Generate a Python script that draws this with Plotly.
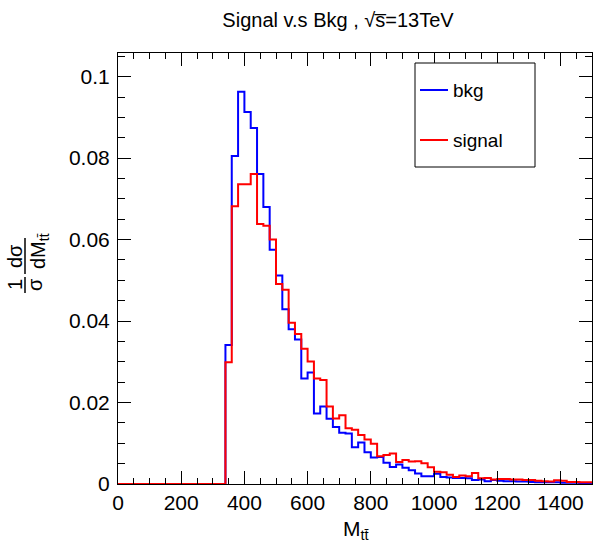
import plotly.graph_objects as go

# ---------------- data ----------------
bin_width = 20
n_bins = 75
edges = [i * bin_width for i in range(n_bins + 1)]

zeros_below = [0.0] * 17  # 0 - 340 GeV

bkg_main = [0.0341, 0.0805, 0.0963, 0.0913, 0.0874, 0.0761, 0.0680, 0.0575, 0.0512, 0.0429,
            0.0380, 0.0355, 0.0259, 0.0274, 0.0173, 0.0190, 0.0160, 0.0140, 0.0126, 0.0124,
            0.0090, 0.0102, 0.0078, 0.0065, 0.0066, 0.0052, 0.0042, 0.0048, 0.0040, 0.0034,
            0.0026, 0.0019, 0.0019, 0.0025, 0.0017, 0.0016, 0.0015, 0.0015, 0.0014, 0.0010,
            0.0011, 0.0007, 0.0010]
bkg_tail = [0.0008, 0.0007, 0.0007, 0.0006, 0.0006, 0.0005, 0.0004, 0.0004, 0.0004, 0.0004,
            0.0003, 0.0003, 0.0003, 0.0002, 0.0002]

sig_main = [0.0299, 0.0682, 0.0736, 0.0736, 0.0761, 0.0638, 0.0634, 0.0600, 0.0491, 0.0477,
            0.0396, 0.0368, 0.0332, 0.0301, 0.0259, 0.0255, 0.0190, 0.0161, 0.0169, 0.0137,
            0.0133, 0.0120, 0.0109, 0.0099, 0.0068, 0.0071, 0.0075, 0.0054, 0.0059, 0.0055,
            0.0056, 0.0051, 0.0041, 0.0030, 0.0029, 0.0023, 0.0017, 0.0021, 0.0019, 0.0027,
            0.0014, 0.0015, 0.0011]
sig_tail = [0.0012, 0.0012, 0.0011, 0.0011, 0.0010, 0.0010, 0.0008, 0.0007, 0.0006, 0.0009,
            0.0008, 0.0005, 0.0005, 0.0004, 0.0004]

bkg = zeros_below + bkg_main + bkg_tail
signal = zeros_below + sig_main + sig_tail

x_ticks = [0, 200, 400, 600, 800, 1000, 1200, 1400]
y_ticks = [0, 0.02, 0.04, 0.06, 0.08, 0.1]
y_tick_text = ["0", "0.02", "0.04", "0.06", "0.08", "0.1"]

# ---------------- layout geometry ----------------
W, H = 593, 546
L, R, T, B = 118, 1, 53, 62
PW = W - L - R
PH = H - T - B


def px(xp):
    return (xp - L) / PW


def py(yp):
    return (H - B - yp) / PH


FONT = "Liberation Sans, Arial, Helvetica, sans-serif"

fig = go.Figure()
fig.add_trace(go.Scatter(x=edges, y=bkg + [bkg[-1]], mode="lines", line_shape="hv",
                         line=dict(color="#0000ff", width=2), name="bkg", showlegend=False))
fig.add_trace(go.Scatter(x=edges, y=signal + [signal[-1]], mode="lines", line_shape="hv",
                         line=dict(color="#ff0000", width=2), name="signal", showlegend=False))

fig.update_layout(
    width=W, height=H,
    margin=dict(l=L, r=R, t=T, b=B, pad=0, autoexpand=False),
    paper_bgcolor="white", plot_bgcolor="white",
    font=dict(family=FONT, size=20, color="black"),
    title=dict(text="Signal v.s Bkg , \u221as\u0305=13TeV", x=338 / W, xanchor="center",
               y=1 - 20 / H, yanchor="middle", font=dict(size=20)),
)

common = dict(ticks="inside", tickwidth=1, tickcolor="black", showline=True, linecolor="black",
              linewidth=1, mirror="allticks", showgrid=False, zeroline=False, automargin=False,
              tickfont=dict(size=21))
fig.update_xaxes(range=[0, 1500], tickvals=x_ticks, ticklen=13,
                 minor=dict(dtick=50, tick0=0, ticks="inside", ticklen=6, tickcolor="black",
                            showgrid=False), **common)
fig.update_yaxes(range=[0, 0.1058], tickvals=y_ticks, ticktext=y_tick_text, ticklen=13,
                 minor=dict(dtick=0.005, tick0=0, ticks="inside", ticklen=7, tickcolor="black",
                            showgrid=False), ticklabelstandoff=3, **common)

ann = []
shapes = []

# x-axis title
ann.append(dict(text="M<sub>t\u0074\u0304</sub>", x=px(356), y=py(530), xref="paper", yref="paper",
                showarrow=False, xanchor="center", yanchor="middle", font=dict(size=21)))

# y-axis title as stacked fractions (rotated)
ann.append(dict(text="1", x=px(15), y=py(285), xref="paper", yref="paper", showarrow=False,
                textangle=-90, xanchor="center", yanchor="middle", font=dict(size=20)))
ann.append(dict(text="\u03c3", x=px(35), y=py(285), xref="paper", yref="paper", showarrow=False,
                textangle=-90, xanchor="center", yanchor="middle", font=dict(size=20)))
shapes.append(dict(type="line", xref="paper", yref="paper", x0=px(25), x1=px(25),
                   y0=py(277), y1=py(293), line=dict(color="black", width=1.5)))
ann.append(dict(text="d\u03c3", x=px(15), y=py(256), xref="paper", yref="paper", showarrow=False,
                textangle=-90, xanchor="center", yanchor="middle", font=dict(size=20)))
ann.append(dict(text="dM<sub>t\u0074\u0304</sub>", x=px(40), y=py(251), xref="paper", yref="paper",
                showarrow=False, textangle=-90, xanchor="center", yanchor="middle",
                font=dict(size=20)))
shapes.append(dict(type="line", xref="paper", yref="paper", x0=px(25), x1=px(25),
                   y0=py(238), y1=py(274), line=dict(color="black", width=1.5)))

# legend box (ROOT style)
shapes.append(dict(type="rect", xref="paper", yref="paper", x0=px(415), x1=px(535),
                   y0=py(167), y1=py(63), line=dict(color="black", width=1),
                   fillcolor="white", layer="above"))
legend_items = [("bkg", "#0000ff", 90), ("signal", "#ff0000", 140)]
for name, color, yy in legend_items:
    shapes.append(dict(type="line", xref="paper", yref="paper", x0=px(420), x1=px(448),
                       y0=py(yy), y1=py(yy), line=dict(color=color, width=2), layer="above"))
    ann.append(dict(text=name, x=px(451), y=py(yy), xref="paper", yref="paper", showarrow=False,
                    xanchor="left", yanchor="middle", font=dict(size=19)))

fig.update_layout(annotations=ann, shapes=shapes)

fig.write_html("out.html", config={"displayModeBar": False},
               post_script="document.body.style.margin='0';")
